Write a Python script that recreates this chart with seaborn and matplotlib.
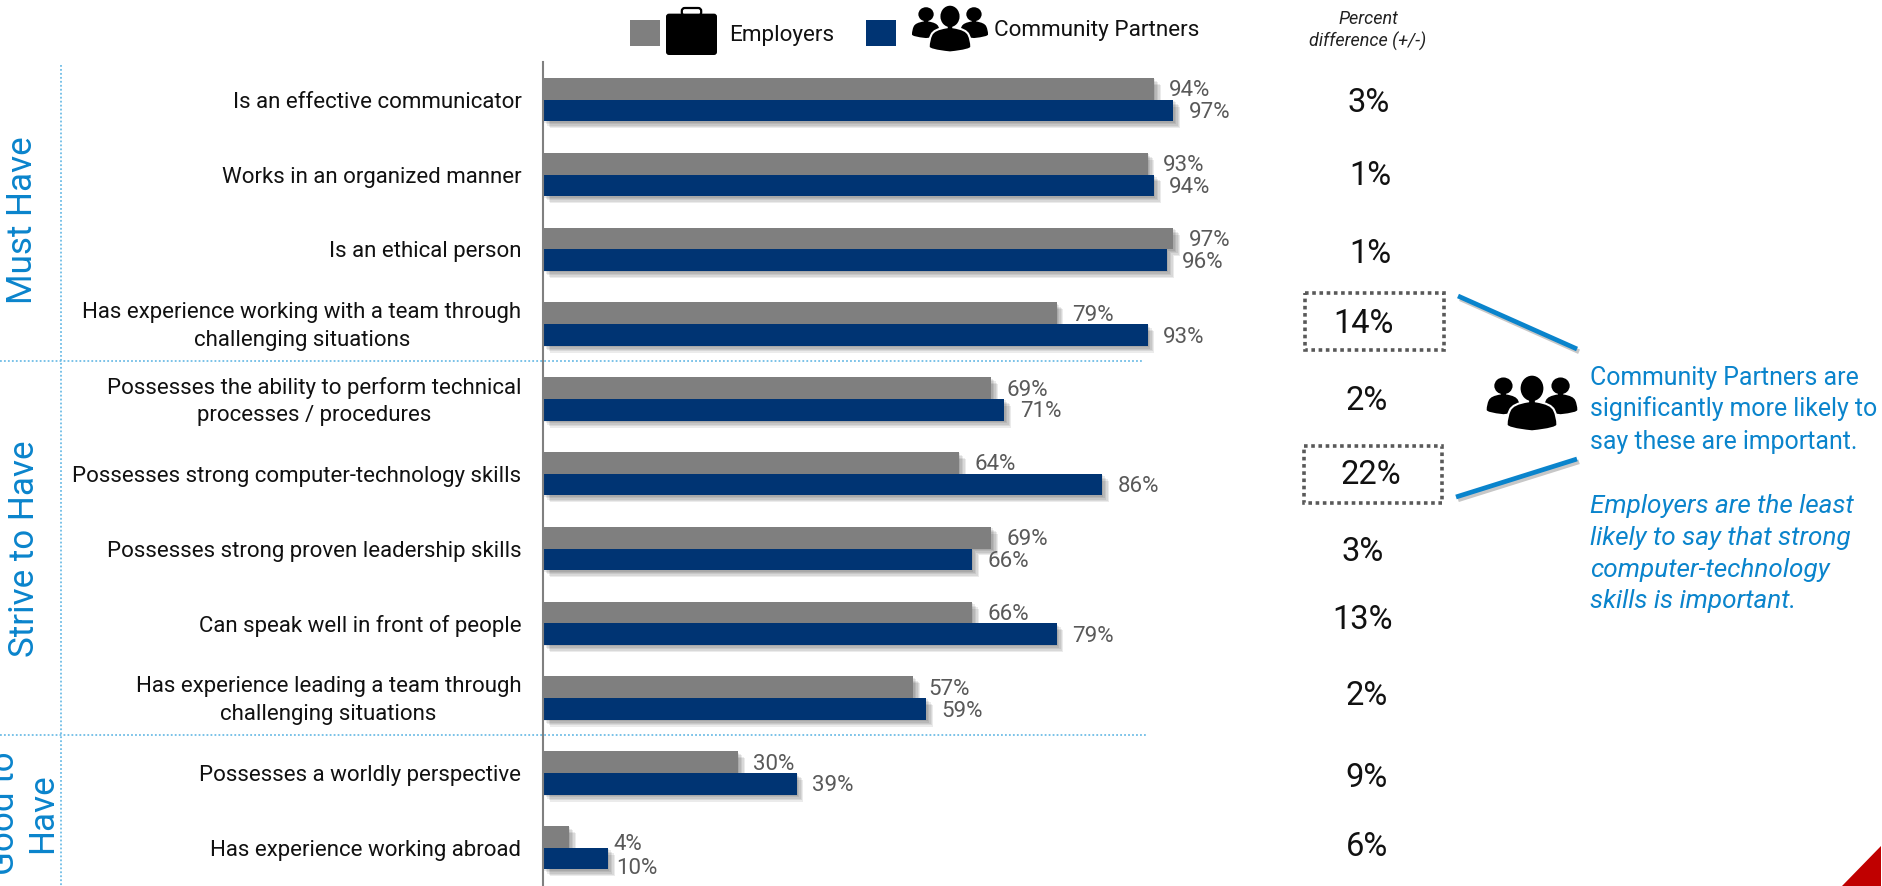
import matplotlib
matplotlib.use("Agg")
import matplotlib.pyplot as plt
import matplotlib.patheffects as pe
from matplotlib.patches import Ellipse, FancyBboxPatch, PathPatch, Polygon, Rectangle
from matplotlib.path import Path
from matplotlib.transforms import ScaledTranslation
import pandas as pd
import seaborn as sns

FONT = "Roboto"
GRAY = "#7f7f7f"
NAVY = "#003473"
BLUE = "#0a84cc"
DOT_BLUE = "#6fbde6"

skills = [
    "Is an effective communicator",
    "Works in an organized manner",
    "Is an ethical person",
    "Has experience working with a team through\nchallenging situations",
    "Possesses the ability to perform technical\nprocesses / procedures",
    "Possesses strong computer-technology skills",
    "Possesses strong proven leadership skills",
    "Can speak well in front of people",
    "Has experience leading a team through\nchallenging situations",
    "Possesses a worldly perspective",
    "Has experience working abroad",
]
employers = [94, 93, 97, 79, 69, 64, 69, 66, 57, 30, 4]
partners = [97, 94, 96, 93, 71, 86, 66, 79, 59, 39, 10]
differences = ["3%", "1%", "1%", "14%", "2%", "22%", "3%", "13%", "2%", "9%", "6%"]
diff_x = [1369, 1370, 1370, 1364, 1367, 1371, 1363, 1363, 1367, 1367, 1367]
diff_y = [103, 176, 254, 324, 401, 475, 552, 620, 696, 778, 847]

W, H = 1883, 886
sns.set_theme(style="white")
plt.rcParams["font.family"] = [FONT, "DejaVu Sans"]

fig = plt.figure(figsize=(W / 100, H / 100), dpi=100, facecolor="white")
px_per_pct = 6.5
ax_left, ax_top = 543, 62
ax = fig.add_axes([ax_left / W, 0, 100 * px_per_pct / W, (H - ax_top) / H])

frame = pd.DataFrame({
    "skill": skills * 2,
    "share": employers + partners,
    "group": ["Employers"] * len(skills) + ["Community Partners"] * len(skills),
})
sns.barplot(
    data=frame, y="skill", x="share", hue="group", order=skills,
    hue_order=["Employers", "Community Partners"],
    palette=[GRAY, NAVY], width=0.58, gap=0, saturation=1, legend=False, ax=ax,
)

# Soft drop shadow built from a few offset translucent copies
shadow = [
    pe.SimplePatchShadow(offset=(o, -o), shadow_rgbFace="black", alpha=0.08)
    for o in (5, 4, 3, 2, 1)
] + [pe.Normal()]
for patch in ax.patches:
    patch.set_linewidth(0)
    patch.set_path_effects(shadow)

ax.set_xlim(0, 100)
row_px = 74.8
ax.set_ylim((H - 99.7) / row_px, -(99.7 - ax_top) / row_px)
ax.set_xlabel("")
ax.set_ylabel("")
ax.set_xticks([])
ax.set_yticks(range(len(skills)))
ax.set_yticklabels(skills, fontsize=16, color="#111111", multialignment="center",
                   linespacing=1.42, va="center")
ax.tick_params(axis="y", length=0, pad=15.5)
# Drop the row labels slightly so they sit level with the bar pairs
label_drop = ScaledTranslation(0, -2.6 / 100, fig.dpi_scale_trans)
for tick_label in ax.get_yticklabels():
    tick_label.set_transform(tick_label.get_transform() + label_drop)
for side in ("top", "right", "bottom"):
    ax.spines[side].set_visible(False)
ax.spines["left"].set_color("#808080")
ax.spines["left"].set_linewidth(1.5)

label_sets = [
    ax.bar_label(container, fmt="%d%%", padding=11, fontsize=16, color="#595959")
    for container in ax.containers
]
for labels in label_sets:
    for label in labels:
        label.xyann = (11, -1.5)
# The two shortest bars share one row, so their labels are nudged apart
label_sets[0][-1].xyann = (32, -5.3)
label_sets[1][-1].xyann = (6, -7)

# Full-canvas layer in pixel units for the surrounding annotations
over = fig.add_axes([0, 0, 1, 1], facecolor="none")
over.set_xlim(0, W)
over.set_ylim(H, 0)
over.axis("off")


def briefcase(cx, top, w, h):
    handle_w = w * 0.38
    over.add_patch(FancyBboxPatch(
        (cx - handle_w / 2, top), handle_w, h * 0.16, boxstyle="round,pad=0,rounding_size=3",
        fc="none", ec="black", lw=1.6))
    over.add_patch(FancyBboxPatch(
        (cx - w / 2, top + h * 0.12), w, h * 0.88, boxstyle="round,pad=0,rounding_size=3",
        fc="black", ec="none"))


def person(cx, top, scale, head_w=0.70, edge="none"):
    v = [(-0.12, 0.6), (-0.12, 0.78), (-0.6, 0.85), (-0.68, 1.05), (-0.78, 1.25),
         (-0.78, 1.5), (-0.78, 1.62), (0, 1.7), (0.78, 1.62), (0.78, 1.5), (0.78, 1.25),
         (0.68, 1.05), (0.6, 0.85), (0.12, 0.78), (0.12, 0.6), (-0.12, 0.6)]
    c = [Path.MOVETO, Path.LINETO, Path.CURVE3, Path.CURVE3, Path.CURVE3, Path.CURVE3,
         Path.CURVE3, Path.CURVE3, Path.CURVE3, Path.CURVE3, Path.CURVE3, Path.CURVE3,
         Path.CURVE3, Path.CURVE3, Path.LINETO, Path.CLOSEPOLY]
    pts = [(cx + x * scale, top + y * scale) for x, y in v]
    over.add_patch(PathPatch(Path(pts, c), fc="black", ec=edge, lw=1.5))
    over.add_patch(Ellipse((cx, top + 0.38 * scale), head_w * scale, 0.78 * scale, fc="black", ec="none"))


def people(cx, top, h):
    s = h / 1.72
    side = s * 0.66
    person(cx - 0.51 * h, top + h * 0.03, side, head_w=0.85)
    person(cx + 0.51 * h, top + h * 0.03, side, head_w=0.85)
    person(cx, top, s, edge="white")


# Legend
over.add_patch(Rectangle((630, 20), 30, 26, fc=GRAY, ec="none"))
briefcase(691.5, 8, 51, 47)
over.text(729, 35, "Employers", fontsize=16.2, color="#111111", va="center")
over.add_patch(Rectangle((866, 20), 30, 26, fc=NAVY, ec="none"))
people(950, 6, 47)
over.text(994, 30, "Community Partners", fontsize=16.2, color="#111111", va="center")

over.text(1368, 19, "Percent", fontsize=13, style="italic", color="#222222", ha="center", va="center")
over.text(1368, 41, "difference (+/-)", fontsize=13, style="italic", color="#222222", ha="center", va="center")

for text, x, y in zip(differences, diff_x, diff_y):
    over.text(x, y, text, fontsize=23.5, color="#111111", ha="center", va="center")

# Section dividers
dots = (0, (1, 1.2))
over.plot([61, 61], [65, H], color=DOT_BLUE, lw=1.3, ls=dots)
over.plot([0, 1144], [361, 361], color=DOT_BLUE, lw=1.3, ls=dots)
over.plot([0, 1147], [735, 735], color=DOT_BLUE, lw=1.3, ls=dots)

over.text(23, 220, "Must Have", fontsize=25.2, rotation=90, color=BLUE, ha="center", va="center")
over.text(25, 549, "Strive to Have", fontsize=25.2, rotation=90, color=BLUE, ha="center", va="center")
over.text(24, 813, "Good to\nHave", fontsize=25.2, rotation=90, color=BLUE, ha="center", va="center",
          multialignment="center", linespacing=1.2)

# Highlighted differences and their callout
for x0, y0, x1, y1 in [(1305, 293, 1444, 350), (1304, 446, 1442, 503)]:
    over.add_patch(Rectangle((x0, y0), x1 - x0, y1 - y0, fc="none", ec="#595959", lw=2.6, ls=(0, (1, 1))))

line_shadow = [pe.SimpleLineShadow(offset=(1.5, -2), alpha=0.22, shadow_color="black"), pe.Normal()]
over.plot([1458, 1577], [296, 349], color=BLUE, lw=3.4, solid_capstyle="butt", path_effects=line_shadow)
over.plot([1577, 1456], [459, 497], color=BLUE, lw=3.4, solid_capstyle="butt", path_effects=line_shadow)

people(1532, 376, 56)

for y, line in zip([378, 409, 442], ["Community Partners are", "significantly more likely to", "say these are important."]):
    over.text(1590, y, line, fontsize=17.9, color=BLUE, va="center")
for y, line in zip([506, 538, 570, 601], ["Employers are the least", "likely to say that strong", "computer-technology", "skills is important."]):
    over.text(1590, y, line, fontsize=18.8, style="italic", color=BLUE, va="center")

# Corner accent
over.add_patch(Polygon([(1842, H), (1881, 846), (1881, H)], closed=True, fc="#c00000", ec="none"))

fig.savefig("out.png", dpi=100, facecolor="white")
